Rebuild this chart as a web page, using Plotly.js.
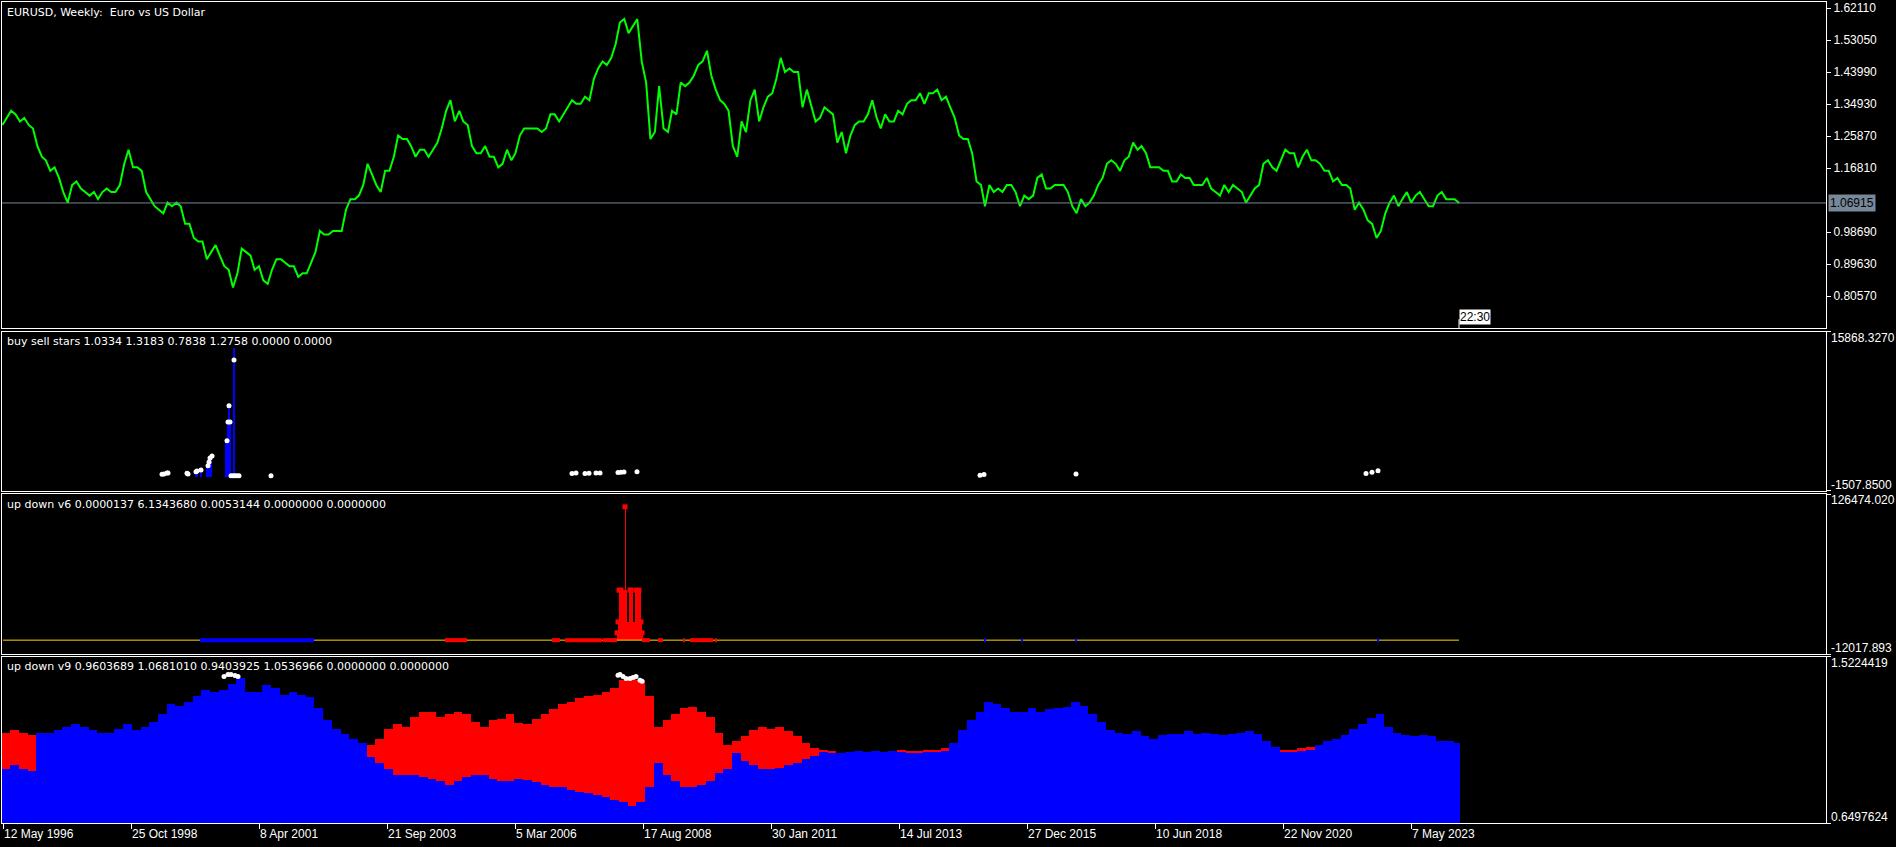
<!DOCTYPE html>
<html>
<head>
<meta charset="utf-8">
<script src="https://cdn.plot.ly/plotly-3.0.1.min.js"></script>
<style>
html,body{margin:0;padding:0;background:#000;}
#chart{width:1896px;height:847px;}
</style>
</head>
<body>
<div id="chart"></div>
<script>
// ---------------- DATA ----------------
const tickDates = ['1996-05-12','1998-10-25','2001-04-08','2003-09-21','2006-03-05','2008-08-17','2011-01-30','2013-07-14','2015-12-27','2018-06-10','2020-11-22','2023-05-07'];
const tickLabels = ['12 May 1996','25 Oct 1998','8 Apr 2001','21 Sep 2003','5 Mar 2006','17 Aug 2008','30 Jan 2011','14 Jul 2013','27 Dec 2015','10 Jun 2018','22 Nov 2020','7 May 2023'];
const xRange = ['1996-05-05','2031-04-20'];
const firstBar = '1996-05-12';
const lastBar = '2024-04-07';
const lastTimeLabel = '22:30';

// Main pane: EURUSD weekly (sampled monthly, from May 1996)
const closes = [
1.29,1.31,1.33,1.32,1.30,1.31,1.29,1.28,
1.23,1.20,1.19,1.16,1.17,1.14,1.10,1.07,1.12,1.13,1.11,1.10,
1.09,1.10,1.08,1.10,1.11,1.10,1.10,1.12,1.18,1.22,1.17,1.17,
1.16,1.10,1.08,1.06,1.05,1.04,1.07,1.06,1.07,1.06,1.01,1.01,
0.97,0.96,0.96,0.91,0.93,0.95,0.92,0.89,0.88,0.83,0.87,0.94,
0.93,0.92,0.88,0.89,0.85,0.84,0.88,0.91,0.91,0.90,0.89,0.89,
0.86,0.87,0.87,0.90,0.93,0.99,0.98,0.98,0.99,0.99,0.99,1.05,
1.08,1.08,1.09,1.12,1.18,1.15,1.12,1.10,1.16,1.16,1.20,1.26,
1.25,1.25,1.23,1.20,1.22,1.22,1.20,1.22,1.24,1.28,1.33,1.36,
1.30,1.33,1.30,1.29,1.23,1.21,1.21,1.23,1.20,1.20,1.17,1.18,
1.22,1.19,1.21,1.26,1.28,1.28,1.28,1.28,1.27,1.28,1.32,1.32,
1.30,1.32,1.34,1.36,1.35,1.35,1.37,1.36,1.42,1.45,1.47,1.46,
1.48,1.52,1.58,1.59,1.55,1.57,1.59,1.47,1.41,1.25,1.27,1.40,
1.28,1.27,1.33,1.32,1.41,1.40,1.41,1.43,1.46,1.47,1.50,1.43,
1.39,1.36,1.35,1.33,1.23,1.20,1.30,1.27,1.36,1.39,1.30,1.34,
1.37,1.38,1.42,1.48,1.44,1.45,1.44,1.44,1.34,1.39,1.34,1.30,
1.31,1.34,1.33,1.32,1.24,1.27,1.21,1.26,1.29,1.30,1.30,1.32,
1.36,1.31,1.28,1.32,1.30,1.30,1.33,1.32,1.35,1.36,1.36,1.38,
1.35,1.38,1.38,1.39,1.36,1.37,1.34,1.31,1.26,1.25,1.25,1.21,
1.13,1.12,1.06,1.12,1.10,1.11,1.10,1.12,1.12,1.10,1.06,1.09,
1.08,1.09,1.14,1.15,1.11,1.11,1.12,1.12,1.12,1.10,1.06,1.04,
1.08,1.06,1.07,1.09,1.12,1.14,1.18,1.19,1.18,1.16,1.19,1.20,
1.24,1.22,1.23,1.21,1.17,1.17,1.17,1.16,1.16,1.13,1.13,1.15,
1.14,1.14,1.12,1.12,1.12,1.14,1.11,1.10,1.09,1.12,1.10,1.12,
1.11,1.10,1.07,1.09,1.11,1.12,1.18,1.19,1.17,1.16,1.19,1.22,
1.21,1.21,1.17,1.20,1.22,1.19,1.19,1.18,1.16,1.16,1.13,1.14,
1.12,1.12,1.11,1.05,1.07,1.05,1.02,1.01,0.97,0.99,1.04,1.07,
1.09,1.06,1.08,1.10,1.07,1.09,1.10,1.08,1.06,1.06,1.09,1.10,
1.08,1.08,1.08,1.06915
];
const bidPrice = 1.06915;
const priceTicks = [1.62110,1.53050,1.43990,1.34930,1.25870,1.16810,0.98690,0.89630,0.80570];
const priceRange = [0.7151, 1.6381];
const mainTitle = 'EURUSD, Weekly:\u00a0 Euro vs US Dollar';

// Pane 2: buy sell stars
const starsTitle = 'buy sell stars 1.0334 1.3183 0.7838 1.2758 0.0000 0.0000';
const starsRange = [-1507.85, 15868.327];
const starsLabels = ['-1507.8500', '15868.3270'];
const starBarDates = ['2000-01-23','2000-01-30','2000-02-27','2000-04-09','2000-04-16','2000-04-23','2000-04-30','2000-05-07','2000-08-20','2000-08-27','2000-09-03','2000-09-10','2000-09-17','2000-10-15'];
const starBarValues = [600,680,790,1260,1660,2100,2320,2320,3990,3990,6030,7815,6030,14090];
const starDotDates = ['1999-05-30','1999-06-13','1999-07-04','1999-07-11','1999-11-21','1999-11-28','2000-01-23','2000-01-30','2000-02-27','2000-04-16','2000-04-23','2000-04-30','2000-05-14','2000-08-27','2000-09-03','2000-09-10','2000-09-17','2000-09-24','2000-10-08','2000-10-15','2000-10-22','2000-11-05','2000-11-19','2001-07-01','2007-04-08','2007-05-06','2007-07-08','2007-08-05','2007-09-23','2007-10-21','2008-02-24','2008-03-16','2008-04-06','2008-07-06','2015-02-01','2015-03-01','2016-12-04','2022-06-26','2022-08-07','2022-09-18'];
const starDotValues = [320,350,460,460,430,350,600,680,790,1260,1660,2100,2320,3990,6030,7815,6030,160,160,12810,160,160,160,160,400,450,400,420,450,460,520,540,560,600,200,300,350,400,550,700];

// Pane 3: up down v6
const v6Title = 'up down v6 0.0000137 6.1343680 0.0053144 0.0000000 0.0000000';
const v6Range = [-12017.893, 126474.02];
const v6Labels = ['-12017.893', '126474.020'];
const v6Level = 0;
const v6BarDates = ['2008-02-17','2008-02-24','2008-03-02','2008-03-09','2008-03-16','2008-03-23','2008-03-30','2008-04-06','2008-04-13','2008-04-20','2008-04-27','2008-05-04','2008-05-11','2008-05-18','2008-05-25','2008-06-01','2008-06-08','2008-06-15','2008-06-22','2008-06-29','2008-07-06','2008-07-13','2008-07-20','2008-07-27','2008-08-03','2008-08-10'];
const v6BarValues = [6320,15840,43280,43280,43280,43280,43280,43280,115400,43280,15840,15840,43280,43280,43280,43280,15840,15840,43280,43280,43280,43280,43280,43280,15840,6320];
const v6TopDates = ['2008-02-17','2008-02-24','2008-03-02','2008-03-16','2008-04-13','2008-05-18','2008-05-25','2008-06-29','2008-07-20','2008-08-03','2008-08-10'];
const v6TopValues = [6320,15840,43280,43280,115400,43280,43280,43280,43280,15840,6320];
const v6RedSpans = [['2004-10-31','2005-04-03'],['2006-11-19','2007-01-14'],['2007-02-18','2007-11-04'],['2007-11-11','2008-02-17'],['2008-08-10','2008-10-05'],['2008-11-30','2009-01-04'],['2009-05-24','2009-06-07'],['2009-07-12','2009-12-20'],['2010-01-03','2010-01-17']];
const v6BlueSpans = [['2000-02-20','2002-04-28'],['2015-03-01','2015-03-15'],['2015-11-15','2015-11-29'],['2016-11-27','2016-12-11'],['2022-09-11','2022-09-25']];

// Pane 4: up down v9 (sampled every two months, from May 1996)
const v9Title = 'up down v9 0.9603689 1.0681010 0.9403925 1.0536966 0.0000000 0.0000000';
const v9Range = [0.6497624, 1.5224419];
const v9Labels = ['0.6497624', '1.5224419'];
const v9Blue = [
0.933,0.953,0.933,0.921,1.125,1.125,1.138,1.157,1.170,1.157,
1.138,1.125,1.125,1.145,1.170,1.138,1.157,1.183,1.221,1.273,
1.266,1.285,1.317,1.349,1.337,1.349,1.381,1.413,1.337,1.337,
1.375,1.362,1.324,1.337,1.324,1.311,1.253,1.189,1.145,1.119,
1.093,1.068,0.997,0.965,0.933,0.901,0.901,0.901,0.889,0.882,
0.870,0.850,0.870,0.889,0.901,0.901,0.882,0.870,0.870,0.882,
0.876,0.863,0.850,0.837,0.837,0.825,0.812,0.806,0.799,0.786,
0.773,0.761,0.741,0.761,0.837,0.965,0.901,0.870,0.837,0.837,
0.850,0.870,0.914,0.933,1.017,0.978,0.953,0.933,0.933,0.940,
0.953,0.965,0.985,1.004,1.029,1.023,1.017,1.023,1.029,1.023,
1.029,1.023,1.029,1.029,1.023,1.023,1.029,1.029,1.036,1.068,
1.138,1.189,1.234,1.285,1.273,1.253,1.234,1.234,1.253,1.234,
1.247,1.253,1.260,1.285,1.266,1.221,1.183,1.138,1.125,1.119,
1.132,1.106,1.093,1.113,1.119,1.119,1.132,1.119,1.125,1.119,
1.113,1.119,1.125,1.132,1.119,1.081,1.049,1.029,1.029,1.036,
1.042,1.062,1.081,1.093,1.113,1.145,1.170,1.202,1.221,1.157,
1.125,1.113,1.106,1.113,1.106,1.081,1.081,1.068
];
const v9RedHigh = [
1.125,1.138,1.125,1.113,null,null,null,null,null,null,
null,null,null,null,null,null,null,null,null,null,
null,null,null,null,null,null,null,null,null,null,
null,null,null,null,null,null,null,null,null,null,
null,null,1.062,1.093,1.145,1.170,1.157,1.209,1.234,1.234,
1.209,1.221,1.234,1.221,1.183,1.157,1.189,1.196,1.221,1.177,
1.170,1.196,1.221,1.247,1.273,1.285,1.305,1.317,1.324,1.337,
1.362,1.401,1.413,1.401,1.317,1.157,1.189,1.221,1.253,1.260,
1.234,1.209,1.125,1.062,1.081,1.106,1.138,1.157,1.145,1.157,
1.132,1.106,1.068,1.042,1.035,1.029,null,null,null,null,
null,null,null,1.035,1.029,1.029,1.035,1.035,1.042,null,
null,null,null,null,null,null,null,null,null,null,
null,null,null,null,null,null,null,null,null,null,
null,null,null,null,null,null,null,null,null,null,
null,null,null,null,null,null,null,1.035,1.035,1.042,
1.048,null,null,null,null,null,null,null,null,null,
null,null,null,null,null,null,null,null
];
const v9RedLow = [
0.933,0.953,0.933,0.921,null,null,null,null,null,null,
null,null,null,null,null,null,null,null,null,null,
null,null,null,null,null,null,null,null,null,null,
null,null,null,null,null,null,null,null,null,null,
null,null,0.997,0.965,0.933,0.901,0.901,0.901,0.889,0.882,
0.870,0.850,0.870,0.889,0.901,0.901,0.882,0.870,0.870,0.882,
0.876,0.863,0.850,0.837,0.837,0.825,0.812,0.806,0.799,0.786,
0.773,0.761,0.741,0.761,0.837,0.965,0.901,0.870,0.837,0.837,
0.850,0.870,0.914,0.933,1.017,0.978,0.953,0.933,0.933,0.940,
0.953,0.965,0.985,1.004,1.022,1.016,null,null,null,null,
null,null,null,1.022,1.016,1.016,1.022,1.022,1.029,null,
null,null,null,null,null,null,null,null,null,null,
null,null,null,null,null,null,null,null,null,null,
null,null,null,null,null,null,null,null,null,null,
null,null,null,null,null,null,null,1.022,1.022,1.029,
1.035,null,null,null,null,null,null,null,null,null,
null,null,null,null,null,null,null,null
];
const v9DotDates = ['2000-08-06','2000-09-03','2000-09-24','2000-10-22','2000-11-12','2008-02-24','2008-03-09','2008-03-30','2008-04-20','2008-05-18','2008-06-08','2008-06-29','2008-07-27','2008-08-10'];
const v9DotValues = [1.42,1.43,1.43,1.425,1.42,1.427,1.43,1.42,1.41,1.41,1.415,1.42,1.40,1.395];

// ---------------- BUILD ----------------
const FONT = 'Liberation Sans, Arial, sans-serif';
const TITLE_FONT = 'DejaVu Sans, Verdana, sans-serif';
const WEEK = 7 * 24 * 3600 * 1000;
const WHITE = '#ffffff';

function monthSeries(startYear, startMonth, count, step, day) {
  const out = [];
  for (let i = 0; i < count; i++) {
    const t = (startMonth - 1) + i * step;
    const y = startYear + Math.floor(t / 12);
    const m = (t % 12) + 1;
    out.push(y + '-' + String(m).padStart(2, '0') + '-' + day);
  }
  return out;
}
function spans(list) {
  const x = [], y = [];
  list.forEach(([a, b]) => { x.push(a, b, null); y.push(v6Level, v6Level, null); });
  return {x, y};
}

const priceDates = monthSeries(1996, 5, closes.length, 1, '08');
const v9Dates = monthSeries(1996, 5, v9Blue.length, 2, '01');
const v9Widths = v9Dates.map((d, i) =>
  (i < v9Dates.length - 1 ? Date.parse(v9Dates[i + 1]) : Date.parse(lastBar) + WEEK) - Date.parse(d));
const v9RedSpan = v9RedHigh.map((h, i) => (h === null || v9RedLow[i] === null) ? null : +(h - v9RedLow[i]).toFixed(4));

const redSeg = spans(v6RedSpans);
const blueSeg = spans(v6BlueSpans);

const traces = [
  {type:'scatter', mode:'lines', x:priceDates, y:closes, xaxis:'x', yaxis:'y',
   line:{color:'#00ff00', width:2}},

  {type:'bar', x:starBarDates, y:starBarValues, xaxis:'x2', yaxis:'y2',
   width:WEEK * 1.6, marker:{color:'#0000ff', line:{width:0}}},
  {type:'scatter', mode:'markers', x:starDotDates, y:starDotValues, xaxis:'x2', yaxis:'y2',
   marker:{color:WHITE, size:5, line:{width:0}}},

  {type:'scatter', mode:'lines', x:[firstBar, lastBar], y:[v6Level, v6Level], xaxis:'x3', yaxis:'y3',
   line:{color:'#ffd700', width:1}},
  {type:'scatter', mode:'lines', x:redSeg.x, y:redSeg.y, xaxis:'x3', yaxis:'y3',
   line:{color:'#ff0000', width:4}, connectgaps:false},
  {type:'scatter', mode:'lines', x:blueSeg.x, y:blueSeg.y, xaxis:'x3', yaxis:'y3',
   line:{color:'#0000ff', width:4}, connectgaps:false},
  {type:'bar', x:v6BarDates, y:v6BarValues, xaxis:'x3', yaxis:'y3',
   width:WEEK, marker:{color:'#ff0000', line:{width:0}}},
  {type:'scatter', mode:'markers', x:v6TopDates, y:v6TopValues, xaxis:'x3', yaxis:'y3',
   marker:{color:'#ff0000', size:5, symbol:'square', line:{width:0}}},

  {type:'bar', x:v9Dates, y:v9Blue, xaxis:'x4', yaxis:'y4', width:v9Widths, offset:0,
   marker:{color:'#0000ff', line:{width:0}}},
  {type:'bar', x:v9Dates, y:v9RedSpan, base:v9RedLow, xaxis:'x4', yaxis:'y4', width:v9Widths, offset:0,
   marker:{color:'#ff0000', line:{width:0}}},
  {type:'scatter', mode:'markers', x:v9DotDates, y:v9DotValues, xaxis:'x4', yaxis:'y4',
   marker:{color:WHITE, size:5, line:{width:0}}}
];

const D1 = [0.6029, 1], D2 = [0.4044, 0.5981], D3 = [0.2058, 0.4007], D4 = [0, 0.2022];

function xAx(anchor, extra) {
  return Object.assign({type:'date', range:xRange, domain:[0, 1], anchor:anchor,
    showgrid:false, zeroline:false, showline:true, mirror:true, linecolor:WHITE, linewidth:1,
    ticks:'', showticklabels:false, fixedrange:true}, extra || {});
}
function yAx(anchor, domain, range, extra) {
  return Object.assign({domain:domain, range:range, anchor:anchor, side:'right',
    showgrid:false, zeroline:false, showline:true, mirror:true, linecolor:WHITE, linewidth:1,
    ticks:'outside', ticklen:4, tickcolor:WHITE, tickmode:'array', tickvals:range.slice(),
    showticklabels:false, fixedrange:true}, extra || {});
}

const layout = {
  width:1896, height:847,
  margin:{l:2, r:70, t:2, b:24, pad:0},
  paper_bgcolor:'#000000', plot_bgcolor:'#000000',
  showlegend:false, hovermode:false,
  barmode:'overlay', bargap:0,
  font:{family:FONT, size:12, color:WHITE},
  xaxis: xAx('y'),
  xaxis2: xAx('y2'),
  xaxis3: xAx('y3'),
  xaxis4: xAx('y4', {ticks:'outside', ticklen:5, tickcolor:WHITE, tickmode:'array',
    tickvals:tickDates, ticktext:tickLabels, showticklabels:true,
    ticklabelposition:'outside right', tickfont:{family:FONT, size:12, color:WHITE}}),
  yaxis: yAx('x', D1, priceRange, {tickvals:priceTicks, ticktext:priceTicks.map(v => v.toFixed(5)),
    showticklabels:true, tickfont:{family:FONT, size:12, color:WHITE}}),
  yaxis2: yAx('x2', D2, starsRange),
  yaxis3: yAx('x3', D3, v6Range),
  yaxis4: yAx('x4', D4, v9Range),
  shapes:[
    {type:'line', xref:'x domain', x0:0, x1:1, yref:'y', y0:bidPrice, y1:bidPrice,
     line:{color:'#778899', width:1}},
    {type:'line', xref:'x', x0:lastBar, x1:lastBar, yref:'y', y0:priceRange[0], y1:0.74,
     line:{color:WHITE, width:1}}
  ],
  annotations:[]
};

const ann = layout.annotations;
function paneTitle(text, top) {
  ann.push({text:text, xref:'paper', x:0, xanchor:'left', xshift:3, yref:'paper', y:top,
    yanchor:'middle', yshift:-10, showarrow:false, font:{family:TITLE_FONT, size:11, color:WHITE}});
}
paneTitle(mainTitle, D1[1]);
paneTitle(starsTitle, D2[1]);
paneTitle(v6Title, D3[1]);
paneTitle(v9Title, D4[1]);

function rangeLabels(yref, range, labels) {
  ann.push({text:labels[1], xref:'paper', x:1, xanchor:'left', xshift:3, yref:yref, y:range[1],
    yanchor:'middle', yshift:-6, showarrow:false, font:{family:FONT, size:12, color:WHITE}});
  ann.push({text:labels[0], xref:'paper', x:1, xanchor:'left', xshift:3, yref:yref, y:range[0],
    yanchor:'middle', yshift:6, showarrow:false, font:{family:FONT, size:12, color:WHITE}});
}
rangeLabels('y2', starsRange, starsLabels);
rangeLabels('y3', v6Range, v6Labels);
rangeLabels('y4', v9Range, v9Labels);

ann.push({text:bidPrice.toFixed(5), xref:'paper', x:1, xanchor:'left', xshift:2, yref:'y', y:bidPrice,
  yanchor:'middle', showarrow:false, bgcolor:'#778899', borderpad:1,
  font:{family:FONT, size:12, color:'#000000'}});
ann.push({text:lastTimeLabel, xref:'x', x:lastBar, xanchor:'left', yref:'y', y:0.747,
  yanchor:'middle', showarrow:false, bgcolor:WHITE, borderpad:0,
  font:{family:FONT, size:12, color:'#000000'}});

Plotly.newPlot('chart', traces, layout, {staticPlot:true, displayModeBar:false});
</script>
</body>
</html>
